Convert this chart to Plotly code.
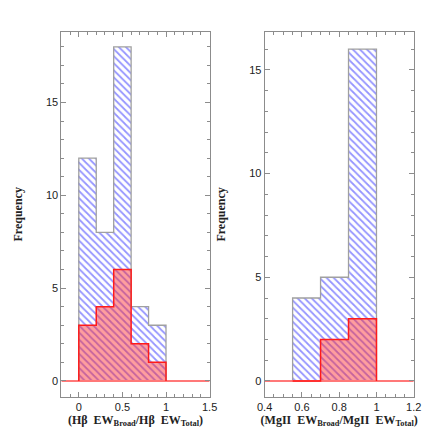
import plotly.graph_objects as go

# H-beta panel
hb_edges = [0.0, 0.2, 0.4, 0.6, 0.8, 1.0]
hb_all = [12, 8, 18, 4, 3]
hb_sub = [3, 4, 6, 2, 1]

# MgII panel
mg_edges = [0.55, 0.70, 0.85, 1.0]
mg_all = [4, 5, 16]
mg_sub = [0, 2, 3]

HATCH = dict(shape="\\", fgcolor="#2a2aff", bgcolor="white", size=5, solidity=0.35)
SERIF = "Liberation Serif"
GREY = "#8c8c8c"


def add_panel(fig, edges, allc, sub, xr, xa, ya):
    widths = [edges[i + 1] - edges[i] for i in range(len(allc))]
    fig.add_trace(go.Bar(x=edges[:-1], y=allc, width=widths, offset=0,
                         marker=dict(color="white", pattern=HATCH, line_width=0),
                         xaxis=xa, yaxis=ya, showlegend=False))
    fig.add_trace(go.Bar(x=edges[:-1], y=sub, width=widths, offset=0,
                         marker=dict(color="rgba(255,40,40,0.45)", line_width=0),
                         xaxis=xa, yaxis=ya, showlegend=False))
    # step outlines
    fig.add_trace(go.Scatter(x=[edges[0]] + edges, y=[0] + allc + [0],
                             mode="lines", line=dict(color="#a0a0a0", width=1.3, shape="hv"),
                             xaxis=xa, yaxis=ya, showlegend=False))
    fig.add_trace(go.Scatter(x=xr, y=[0, 0], mode="lines",
                             line=dict(color="#ff7878", width=2),
                             xaxis=xa, yaxis=ya, showlegend=False))
    fig.add_trace(go.Scatter(x=[edges[0]] + edges, y=[0] + sub + [0],
                             mode="lines", line=dict(color="#ff1a1a", width=1.5, shape="hv"),
                             xaxis=xa, yaxis=ya, showlegend=False))


fig = go.Figure()
add_panel(fig, hb_edges, hb_all, hb_sub, [-0.2, 1.5], "x", "y")
add_panel(fig, mg_edges, mg_all, mg_sub, [0.4, 1.2], "x2", "y2")

ax = dict(showline=True, linecolor=GREY, linewidth=1, mirror="ticks",
          ticks="inside", ticklen=5, tickcolor=GREY, tickwidth=1,
          showgrid=False, zeroline=False,
          tickfont=dict(family="Liberation Sans", size=11, color="#222222"))
mn = dict(ticks="inside", ticklen=3, tickcolor=GREY, tickwidth=1, showgrid=False)
tfont = dict(family=SERIF, size=12, color="#222222")

fig.update_layout(
    width=436, height=436,
    margin=dict(l=0, r=0, t=0, b=0),
    plot_bgcolor="white", paper_bgcolor="white",
    barmode="overlay", bargap=0,
    xaxis=dict(ax, domain=[0.108, 0.461], range=[-0.2, 1.5], dtick=0.5, tick0=0,
               minor=dict(mn, dtick=0.1),
               title=dict(text="<b>(Hβ  EW<sub>Broad</sub>/Hβ  EW<sub>Total</sub>)</b>",
                          standoff=0, font=tfont),
               anchor="y"),
    yaxis=dict(ax, domain=[0.1085, 0.945], range=[-0.85, 18.8], dtick=5, tick0=0,
               minor=dict(mn, dtick=1),
               title=dict(text="<b>Frequency</b>", standoff=20, font=tfont),
               anchor="x"),
    xaxis2=dict(ax, domain=[0.592, 0.947], range=[0.4, 1.2], dtick=0.2, tick0=0.4,
                minor=dict(mn, dtick=0.05),
                title=dict(text="<b>(MgII  EW<sub>Broad</sub>/MgII  EW<sub>Total</sub>)</b>",
                           standoff=0, font=tfont),
                anchor="y2"),
    yaxis2=dict(ax, domain=[0.1085, 0.945], range=[-0.76, 16.83], dtick=5, tick0=0,
                minor=dict(mn, dtick=1),
                title=dict(text="<b>Frequency</b>", standoff=20, font=tfont),
                anchor="x2"),
)

fig.write_html("out.html")
